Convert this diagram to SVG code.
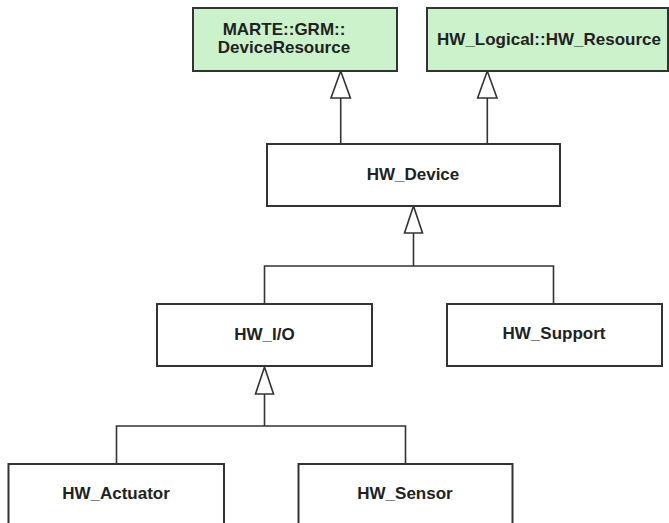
<svg xmlns="http://www.w3.org/2000/svg" width="669" height="523" viewBox="0 0 669 523">
<style>
.box{fill:#ffffff;stroke:#333333;stroke-width:2}
.green{fill:#ccf2cc;stroke:#333333;stroke-width:2}
.lbl{font-family:"Liberation Sans",Arial,sans-serif;font-size:17px;font-weight:bold;fill:#222222;text-anchor:middle}
.conn{fill:none;stroke:#333333;stroke-width:1.6}
.tri{fill:#ffffff;stroke:#333333;stroke-width:1.6;stroke-linejoin:miter}
</style>
<rect width="669" height="523" fill="#ffffff"/>
<g id="connectors">
  <path class="conn" d="M340.7,98 V144"/>
  <polygon class="tri" points="340.7,71 331,98 350.4,98"/>
  <path class="conn" d="M487.3,98 V144"/>
  <polygon class="tri" points="487.3,71 477.6,98 497,98"/>
  <path class="conn" d="M413.5,233 V266 M264.5,304 V266 H553.5 V304"/>
  <polygon class="tri" points="413.5,206 404.5,233 422.5,233"/>
  <path class="conn" d="M264.5,394 V426 M116.5,464 V426 H405.5 V464"/>
  <polygon class="tri" points="264.5,367 255.5,394 273.5,394"/>
</g>
<g id="n-device-resource">
  <rect class="green" x="193" y="8" width="204" height="63"/>
  <text class="lbl" x="284" y="35">MARTE::GRM::</text>
  <text class="lbl" x="284" y="53">DeviceResource</text>
</g>
<g id="n-hw-resource">
  <rect class="green" x="427" y="8" width="241" height="63"/>
  <text class="lbl" x="549" y="45">HW_Logical::HW_Resource</text>
</g>
<g id="n-hw-device">
  <rect class="box" x="267" y="144" width="293" height="62"/>
  <text class="lbl" x="413" y="180">HW_Device</text>
</g>
<g id="n-hw-io">
  <rect class="box" x="157" y="304" width="215" height="62"/>
  <text class="lbl" x="264.5" y="340">HW_I/O</text>
</g>
<g id="n-hw-support">
  <rect class="box" x="447" y="304" width="215" height="62"/>
  <text class="lbl" x="554" y="339">HW_Support</text>
</g>
<g id="n-hw-actuator">
  <rect class="box" x="8.5" y="464" width="215.5" height="70"/>
  <text class="lbl" x="116" y="499">HW_Actuator</text>
</g>
<g id="n-hw-sensor">
  <rect class="box" x="298.5" y="464" width="214" height="70"/>
  <text class="lbl" x="405" y="499">HW_Sensor</text>
</g>
</svg>
